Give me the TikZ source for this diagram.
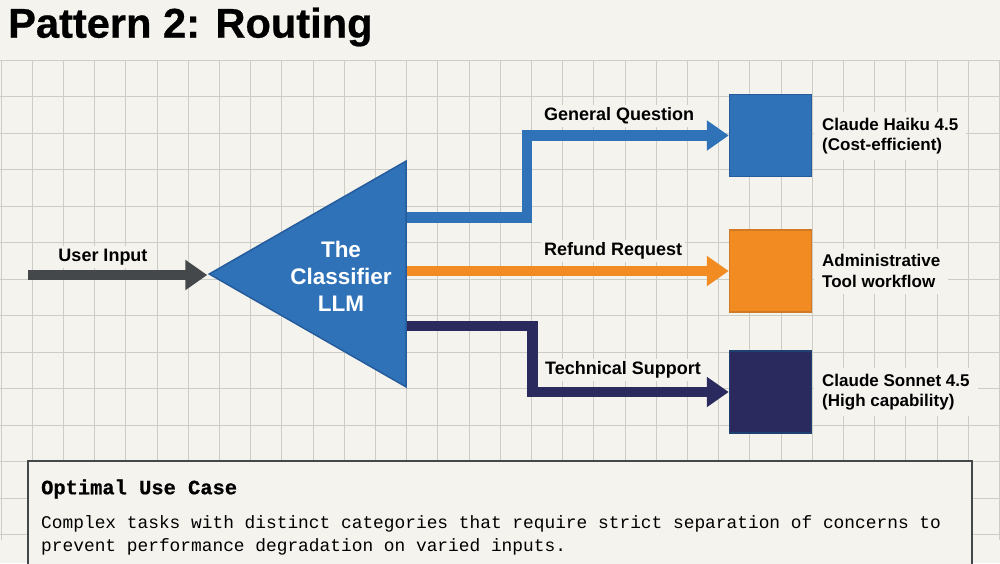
\documentclass[tikz,border=0pt]{standalone}
\usepackage{fontspec}
\setmainfont{Liberation Sans}
\setmonofont{Liberation Mono}
\usetikzlibrary{shapes.geometric, arrows.meta, positioning, calc}

\definecolor{paper}{HTML}{F4F3EE}
\definecolor{gridline}{HTML}{CDCDC8}
\definecolor{inputgray}{HTML}{45484A}
\definecolor{routeblue}{HTML}{2F72B8}
\definecolor{routeblueedge}{HTML}{265C9C}
\definecolor{routeorange}{HTML}{F28B22}
\definecolor{routeorangeedge}{HTML}{D07A28}
\definecolor{routenavy}{HTML}{2B2A5E}
\definecolor{routenavyedge}{HTML}{1F4070}

\begin{document}
\begin{tikzpicture}[
    x=1pt, y=-1pt,
    target/.style={rectangle, draw, line width=1.5pt, minimum width=82pt, minimum height=82pt, inner sep=0pt},
    route/.style={-{Triangle[length=22pt, width=29pt]}, line width=10.5pt},
    label/.style={font=\fontsize{18}{20}\selectfont\bfseries, fill=paper, inner sep=3pt},
    model/.style={font=\fontsize{17}{20.5}\selectfont\bfseries, align=left, anchor=west, fill=paper, inner xsep=8pt, inner ysep=6pt}
]
    % Page and grid
    \useasboundingbox (0,0) rectangle (1000,563);
    \fill[paper] (0,0) rectangle (1000,563);
    \foreach \i in {0,...,32} {
        \draw[gridline, line width=0.8pt] ({1+31.2*\i},60) -- ({1+31.2*\i},540);
    }
    \foreach \j in {0,...,13} {
        \draw[gridline, line width=0.8pt] (0,{60+36.5*\j}) -- (1000,{60+36.5*\j});
    }

    % Title
    \node[font=\fontsize{41.6}{46}\selectfont\bfseries\addfontfeature{FakeBold=0.6}, anchor=west, inner sep=0pt] (title) at (8,27) {Pattern 2: Routing};

    % Classifier
    \node[isosceles triangle, isosceles triangle stretches, shape border rotate=180, draw=routeblueedge, fill=routeblue,
        line width=1.5pt, minimum width=226pt, minimum height=197pt, inner sep=0pt, anchor=east] (classifier) at (407,274) {};
    \node[font=\fontsize{22.5}{27}\selectfont\bfseries, text=white, align=center] (classifiertext) at (341,276) {The\\Classifier\\LLM};

    % Input
    \coordinate (input) at (28,275);
    \draw[route, inputgray] (input) -- (classifier.apex |- input);
    \node[label] (inputlabel) at (103,257) {User Input};

    % Targets
    \node[target, draw=routeblueedge, fill=routeblue] (haiku) at (770.5,135.5) {};
    \node[target, draw=routeorangeedge, fill=routeorange] (admin) at (770.5,271) {};
    \node[target, draw=routenavyedge, fill=routenavy] (sonnet) at (770.5,392) {};

    % Routes
    \draw[route, routeblue] ([yshift=56.5pt]classifier.east) -- ++(120,0) |- (haiku.west);
    \draw[route, routeorange] (classifier.east |- admin) -- (admin.west);
    \draw[route, routenavy] ([yshift=-52pt]classifier.east) -- ++(125.5,0) |- (sonnet.west);

    % Route labels
    \node[label, anchor=west] (generallabel) at (541,116) {General Question};
    \node[label, anchor=west] (refundlabel) at (541,251) {Refund Request};
    \node[label, anchor=west] (techlabel) at (542,370) {Technical Support};

    % Target labels
    \node[model] (haikulabel) at (814,136) {Claude Haiku 4.5\\(Cost-efficient)};
    \node[model] (adminlabel) at (814,271) {Administrative\\Tool workflow};
    \node[model] (sonnetlabel) at (814,392) {Claude Sonnet 4.5\\(High capability)};

    % Use case box
    \draw[inputgray, fill=paper, line width=1.5pt] (28,461) rectangle (972,575);
    \node[font=\fontsize{20.4}{24}\selectfont\ttfamily\bfseries\addfontfeature{FakeBold=0.6}, anchor=west, inner sep=0pt] (casetitle) at (41,489) {Optimal Use Case};
    \node[font=\fontsize{17.85}{22.9}\selectfont\ttfamily, align=left, anchor=north west, inner sep=0pt] (casetext) at (41,515)
        {Complex tasks with distinct categories that require strict separation of concerns to\\prevent performance degradation on varied inputs.};
\end{tikzpicture}
\end{document}
